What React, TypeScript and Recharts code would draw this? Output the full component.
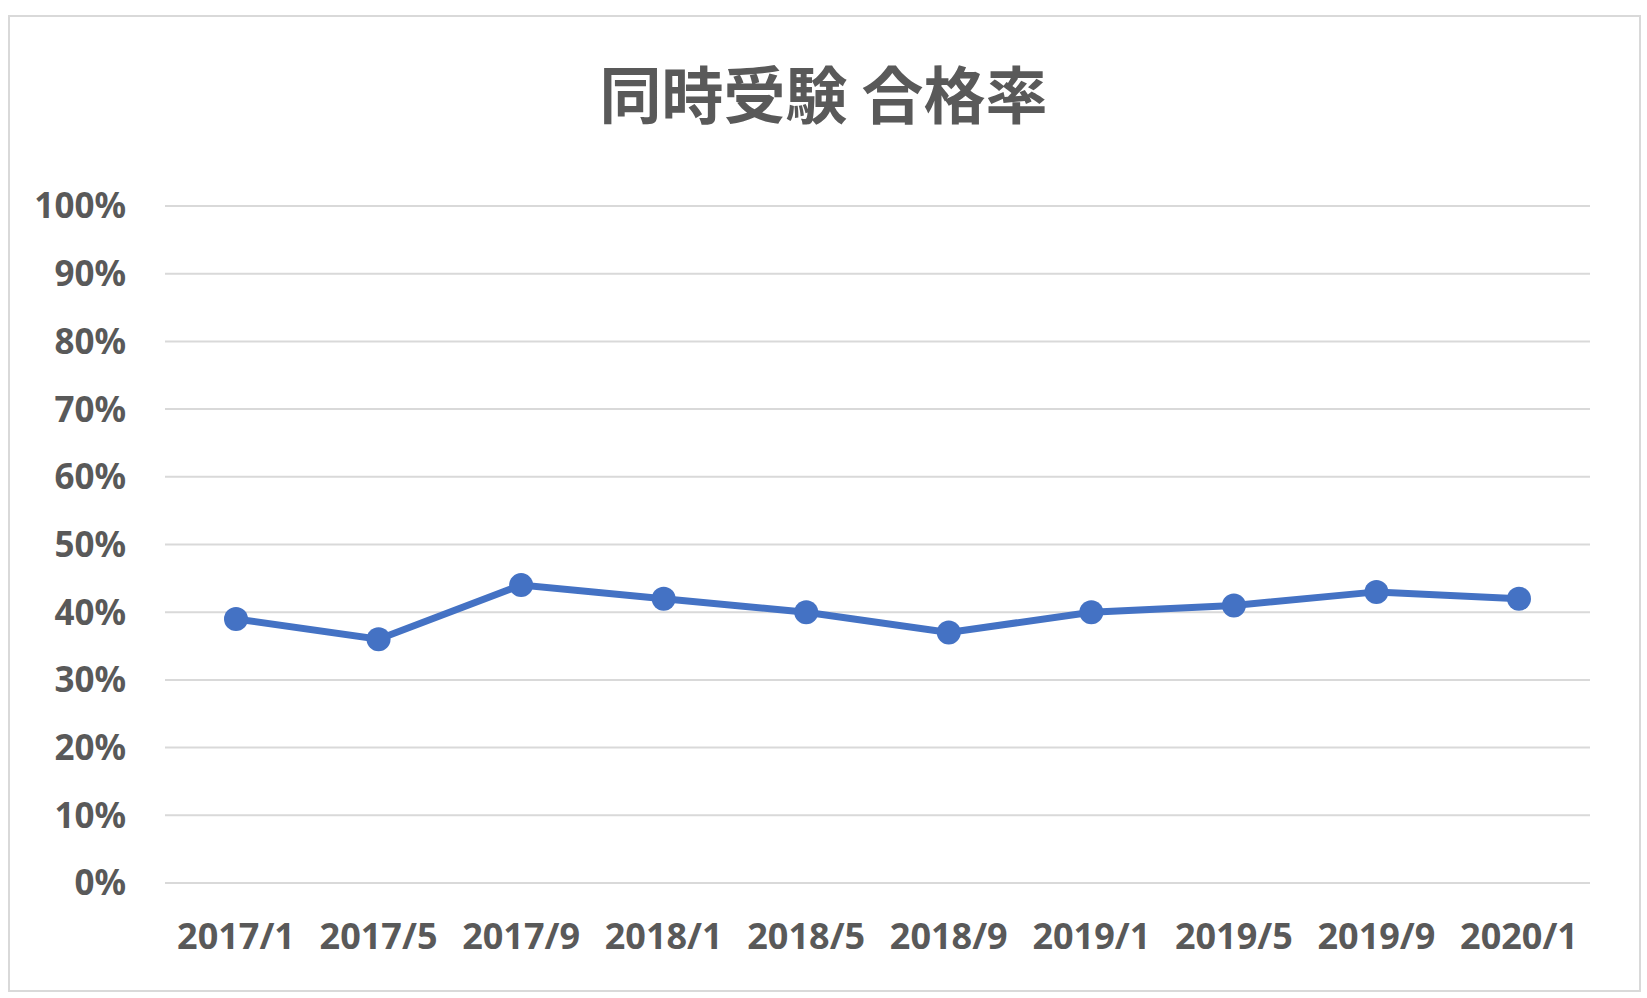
import React from 'react';
import { LineChart, Line, XAxis, YAxis, CartesianGrid } from 'recharts';

const categories = ['2017/1', '2017/5', '2017/9', '2018/1', '2018/5', '2018/9', '2019/1', '2019/5', '2019/9', '2020/1'];
const passRates = [39, 36, 44, 42, 40, 37, 40, 41, 43, 42];
const yTicks = [0, 10, 20, 30, 40, 50, 60, 70, 80, 90, 100];

const data = categories.map((name, i) => ({ name, rate: passRates[i] }));

const FONT = '"Noto Sans", "Noto Sans CJK JP", sans-serif';
const TEXT = '#595959';

export default function App() {
  return (
    <div style={{ position: 'absolute', left: 0, top: 0, width: 1647, height: 998, background: '#fff', fontFamily: FONT }}>
      {/* chart frame */}
      <div style={{ position: 'absolute', left: 8, top: 15, width: 1629, height: 973, border: '2px solid #d9d9d9' }} />
      <div style={{
        position: 'absolute', left: 0, width: 1647, top: 52, textAlign: 'center',
        fontFamily: '"Noto Sans CJK JP", sans-serif', fontWeight: 700, fontSize: 62, color: TEXT, lineHeight: '80px',
      }}>
        同時受験 合格率
      </div>
      <div style={{ position: 'absolute', left: 0, top: 0 }}>
        <LineChart width={1647} height={998} data={data} margin={{ top: 206, right: 57, bottom: 85, left: 45 }}>
          <CartesianGrid vertical={false} stroke="#d9d9d9" strokeWidth={2} />
          <XAxis dataKey="name" height={30} axisLine={false} tickLine={false} tickSize={0} tickMargin={40} interval={0}
            padding={{ left: 71, right: 71 }}
            tick={{ fill: TEXT, fontSize: 36, fontWeight: 700, fontFamily: FONT }} />
          <YAxis type="number" domain={[0, 100]} ticks={yTicks} width={120} axisLine={false} tickLine={false}
            tickSize={0} tickMargin={39} tickFormatter={v => `${v}%`} interval={0}
            tick={{ fill: TEXT, fontSize: 35, fontWeight: 700, fontFamily: FONT }} />
          <Line type="linear" dataKey="rate" stroke="#4472c4" strokeWidth={7} isAnimationActive={false}
            dot={{ r: 12, fill: '#4472c4', stroke: '#4472c4', strokeWidth: 0 }} />
        </LineChart>
      </div>
    </div>
  );
}
